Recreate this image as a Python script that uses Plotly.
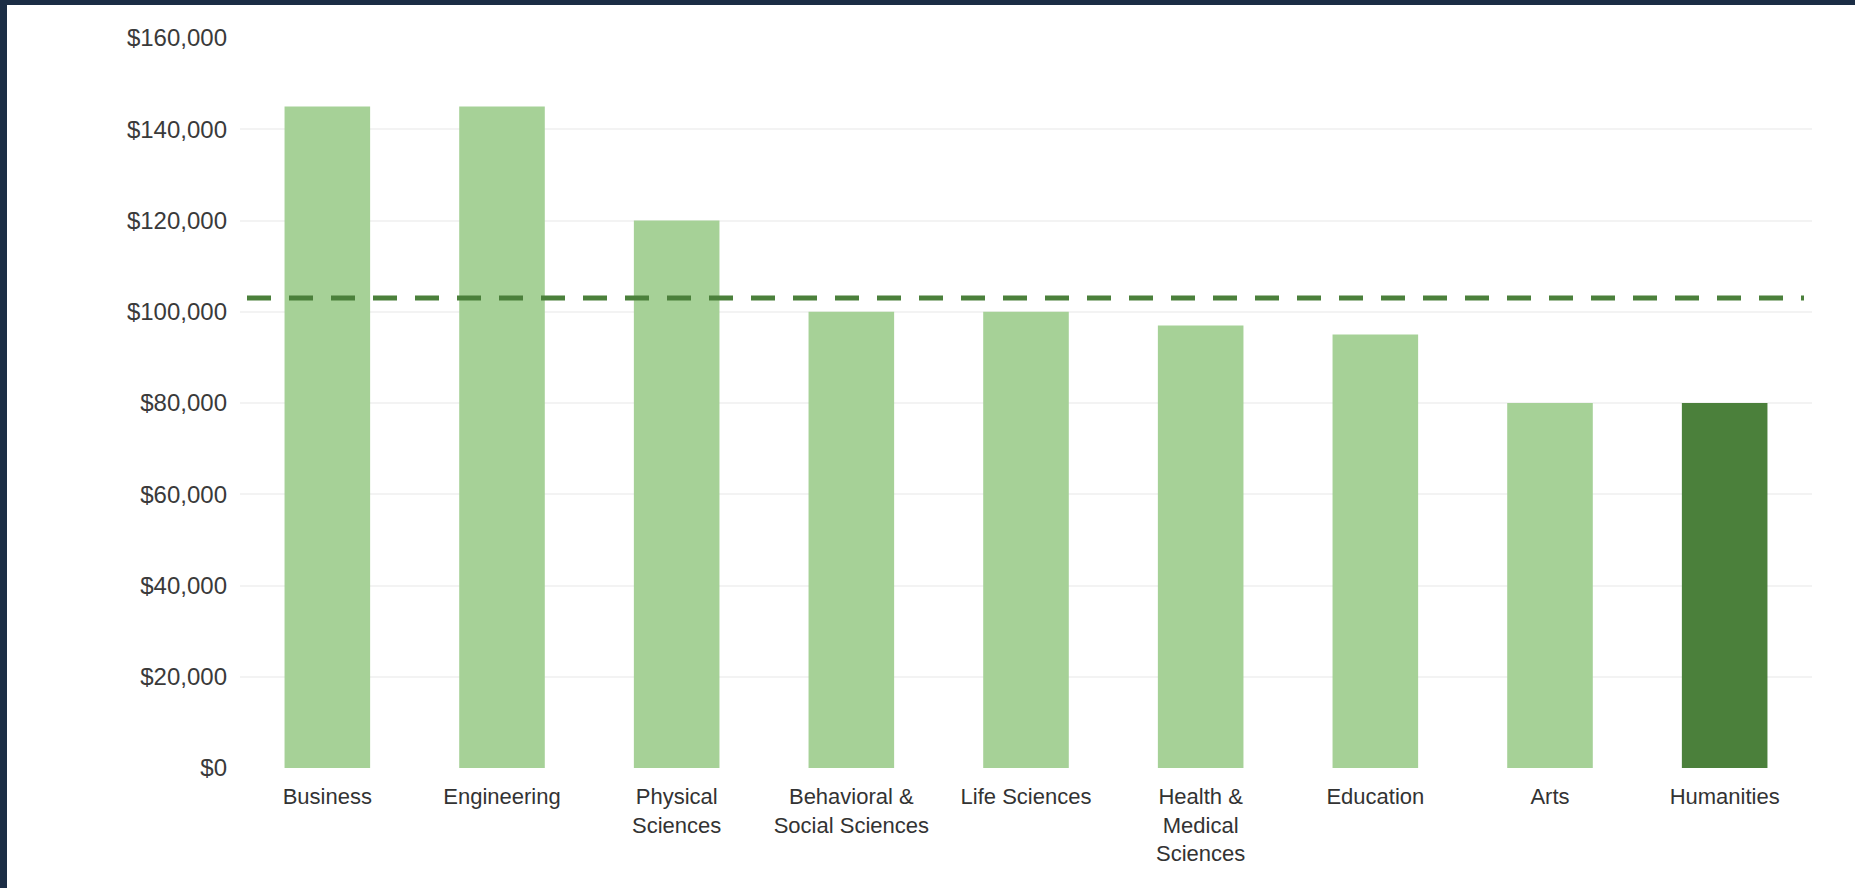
import plotly.graph_objects as go

# Median earnings by field of study
fields = [
    "Business", "Engineering", "Physical<br>Sciences",
    "Behavioral &<br>Social Sciences", "Life Sciences",
    "Health &<br>Medical<br>Sciences", "Education", "Arts", "Humanities",
]
earnings = [145000, 145000, 120000, 100000, 100000, 97000, 95000, 80000, 80000]
highlight = "Humanities"
overall_average = 103000

y_ticks = [0, 20000, 40000, 60000, 80000, 100000, 120000, 140000, 160000]
y_tick_text = ["$0", "$20,000", "$40,000", "$60,000", "$80,000",
               "$100,000", "$120,000", "$140,000", "$160,000"]

LIGHT = "#a6d197"
DARK = "#4b803b"
NAVY = "#1b2d45"

colors = [DARK if f.startswith(highlight) else LIGHT for f in fields]

fig = go.Figure(go.Bar(
    x=fields,
    y=earnings,
    marker=dict(color=colors, line=dict(width=0)),
    hoverinfo="x+y",
))

# plot-area geometry (pixels) used for the frame and reference line extents
W, H = 1855, 888
L, R, T, B = 240, 43, 38, 120
pw, ph = W - L - R, H - T - B

def px_x(p):
    return (p - L) / pw

def px_y(p):
    return (H - B - p) / ph

shapes = [
    # dark frame along the left and top edges
    dict(type="rect", xref="paper", yref="paper",
         x0=px_x(0), x1=px_x(7), y0=px_y(H), y1=px_y(0),
         fillcolor=NAVY, line=dict(width=0), layer="above"),
    dict(type="rect", xref="paper", yref="paper",
         x0=px_x(0), x1=px_x(W), y0=px_y(5), y1=px_y(0),
         fillcolor=NAVY, line=dict(width=0), layer="above"),
    # overall average reference line
    dict(type="line", xref="paper", yref="y",
         x0=px_x(247), x1=px_x(1804), y0=overall_average, y1=overall_average,
         line=dict(color=DARK, width=5, dash="24px,18px"), layer="above"),
]

fig.update_layout(
    width=W, height=H,
    margin=dict(l=L, r=R, t=T, b=B, pad=0),
    paper_bgcolor="white",
    plot_bgcolor="white",
    showlegend=False,
    bargap=0.51,
    shapes=shapes,
    font=dict(family="Liberation Sans, Arial, sans-serif", color="#3a3a3a"),
    xaxis=dict(
        showgrid=False, zeroline=False, showline=False, ticks="",
        tickfont=dict(size=22, color="#333333"),
        ticklabelstandoff=13,
    ),
    yaxis=dict(
        range=[0, 160000],
        tickvals=y_ticks, ticktext=y_tick_text,
        showgrid=True, gridcolor="#f3f3f3", gridwidth=2,
        zeroline=False, showline=False, ticks="",
        tickfont=dict(size=24, color="#3a3a3a"),
        ticklabelstandoff=12,
    ),
)

fig.write_html("out.html")
